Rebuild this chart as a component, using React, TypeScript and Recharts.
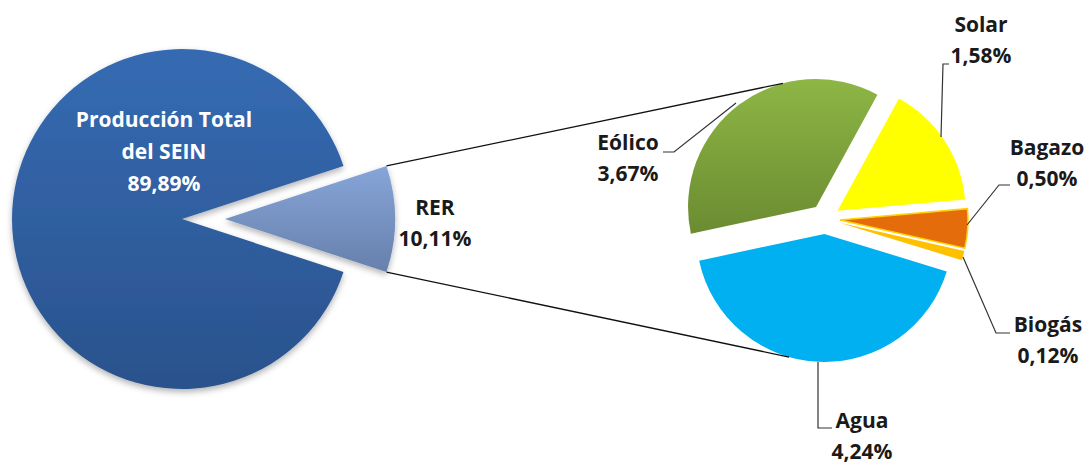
import { PieChart, Pie, Cell } from 'recharts';

// primary pie
const mainNames = ['RER', 'Producción Total del SEIN'];
const mainValues = [10.11, 89.89];
const mainLabels = ['10,11%', '89,89%'];

// secondary pie (RER breakdown), counter-clockwise from the right
const rerNames = ['Biogás', 'Bagazo', 'Solar', 'Eólico', 'Agua'];
const rerValues = [0.12, 0.5, 1.58, 3.67, 4.24];
const rerLabels = ['0,12%', '0,50%', '1,58%', '3,67%', '4,24%'];
const rerColors = ['#FFC000', '#E46C0A', '#FFFF00', 'url(#gEolico)', '#00B0F0'];

const W = 1087;
const H = 466;
const LEFT = { cx: 182, cy: 219, r: 170, explode: 43 };
const RIGHT = { cx: 825, cy: 219, r: 128, explode: 15, start: -17 };
const FONT = '"Open Sans", "DejaVu Sans", sans-serif';

const mainData = mainNames.map((name, i) => ({ name, value: mainValues[i] }));
const rerData = rerNames.map((name, i) => ({ name, value: rerValues[i] }));

const mainTotal = mainValues.reduce((a, b) => a + b, 0);
const rerTotal = rerValues.reduce((a, b) => a + b, 0);
const mainStart = (-180 * mainValues[0]) / mainTotal;

function polar(cx: number, cy: number, r: number, deg: number) {
  const a = (deg * Math.PI) / 180;
  return [cx + r * Math.cos(a), cy - r * Math.sin(a)];
}

// mid angle of each slice in the secondary pie
const rerMids: number[] = [];
{
  let acc = 0;
  rerValues.forEach((v) => {
    rerMids.push(RIGHT.start + (360 * (acc + v / 2)) / rerTotal);
    acc += v;
  });
}
const rerCenters = rerMids.map((m) => polar(RIGHT.cx, RIGHT.cy, RIGHT.explode, m));

function SliceLabel({ x, y, name, value, color = '#1a1a1a' }: { x: number; y: number; name: string; value: string; color?: string }) {
  return (
    <g fontFamily={FONT} fontSize={21} fill={color} textAnchor="middle" fontWeight={700}>
      <text x={x} y={y}>{name}</text>
      <text x={x} y={y + 31}>{value}</text>
    </g>
  );
}

export default function App() {
  const rerCx = LEFT.cx + LEFT.explode;
  const [tx1, ty1] = polar(rerCx, LEFT.cy, LEFT.r, -mainStart);
  const [bx1, by1] = polar(rerCx, LEFT.cy, LEFT.r, mainStart);
  const [tx2, ty2] = polar(rerCenters[3][0], rerCenters[3][1], RIGHT.r, 105);
  const [bx2, by2] = polar(rerCenters[4][0], rerCenters[4][1], RIGHT.r, 254);

  return (
    <div style={{ position: 'absolute', left: 0, top: 0, width: W, height: H, background: '#fff' }}>
      <PieChart width={W} height={H} margin={{ top: 0, right: 0, bottom: 0, left: 0 }}>
        <defs>
          <linearGradient id="gMain" x1="0" y1="0" x2="0" y2="1">
            <stop offset="0%" stopColor="#356BB3" />
            <stop offset="100%" stopColor="#2A528C" />
          </linearGradient>
          <linearGradient id="gRer" x1="0" y1="0" x2="0" y2="1">
            <stop offset="0%" stopColor="#86A5D8" />
            <stop offset="100%" stopColor="#6780AC" />
          </linearGradient>
          <linearGradient id="gEolico" x1="0" y1="0" x2="0" y2="1">
            <stop offset="0%" stopColor="#8DB645" />
            <stop offset="100%" stopColor="#6B8B31" />
          </linearGradient>
          <filter id="soft" x="-10%" y="-10%" width="120%" height="125%">
            <feDropShadow dx="0" dy="3" stdDeviation="3" floodColor="#000" floodOpacity="0.3" />
          </filter>
        </defs>
        <Pie
          data={mainData}
          dataKey="value"
          cx={LEFT.cx}
          cy={LEFT.cy}
          outerRadius={LEFT.r}
          startAngle={mainStart}
          endAngle={mainStart + 360}
          stroke="none"
          isAnimationActive={false}
        >
          {mainData.map((d, i) => (
            <Cell key={d.name} fill={i === 1 ? 'url(#gMain)' : 'transparent'} filter={i === 1 ? 'url(#soft)' : undefined} />
          ))}
        </Pie>
        <Pie
          data={mainData}
          dataKey="value"
          cx={rerCx}
          cy={LEFT.cy}
          outerRadius={LEFT.r}
          startAngle={mainStart}
          endAngle={mainStart + 360}
          stroke="none"
          isAnimationActive={false}
        >
          {mainData.map((d, i) => (
            <Cell key={d.name} fill={i === 0 ? 'url(#gRer)' : 'transparent'} filter={i === 0 ? 'url(#soft)' : undefined} />
          ))}
        </Pie>
        {rerData.map((slice, k) => (
          <Pie
            key={slice.name}
            data={rerData}
            dataKey="value"
            cx={rerCenters[k][0]}
            cy={rerCenters[k][1]}
            outerRadius={RIGHT.r}
            startAngle={RIGHT.start}
            endAngle={RIGHT.start + 360}
            stroke="none"
            isAnimationActive={false}
          >
            {rerData.map((d, i) => (
              <Cell
                key={d.name}
                fill={i === k ? rerColors[i] : 'transparent'}
                stroke={i === k && d.name === 'Bagazo' ? '#FFD200' : 'none'}
                strokeWidth={1.5}
              />
            ))}
          </Pie>
        ))}
      </PieChart>
      <svg width={W} height={H} style={{ position: 'absolute', left: 0, top: 0, pointerEvents: 'none' }}>
        {/* series lines */}
        <g stroke="#111" strokeWidth={1.3} fill="none">
          <line x1={tx1} y1={ty1} x2={tx2} y2={ty2} />
          <line x1={bx1} y1={by1} x2={bx2} y2={by2} />
        </g>
        {/* leader lines */}
        <g stroke="#333" strokeWidth={1.2} fill="none">
          <polyline points="663,152 674,152 736,103" />
          <polyline points="949,64 943,64 941,137" />
          <polyline points="1010,185 999,185 967,225" />
          <polyline points="963,257 996,333 1010,333" />
          <polyline points="818,362 818,428 832,428" />
        </g>
        <g fontFamily={FONT} fontSize={21} fill="#fff" textAnchor="middle" fontWeight={700}>
          <text x={164} y={127}>Producción Total</text>
          <text x={164} y={159}>del SEIN</text>
          <text x={164} y={191}>{mainLabels[1]}</text>
        </g>
        <SliceLabel x={435} y={215} name={mainNames[0]} value={mainLabels[0]} />
        <SliceLabel x={628} y={150} name={rerNames[3]} value={rerLabels[3]} />
        <SliceLabel x={981} y={32} name={rerNames[2]} value={rerLabels[2]} />
        <SliceLabel x={1047} y={155} name={rerNames[1]} value={rerLabels[1]} />
        <SliceLabel x={1048} y={332} name={rerNames[0]} value={rerLabels[0]} />
        <SliceLabel x={862} y={428} name={rerNames[4]} value={rerLabels[4]} />
      </svg>
    </div>
  );
}
